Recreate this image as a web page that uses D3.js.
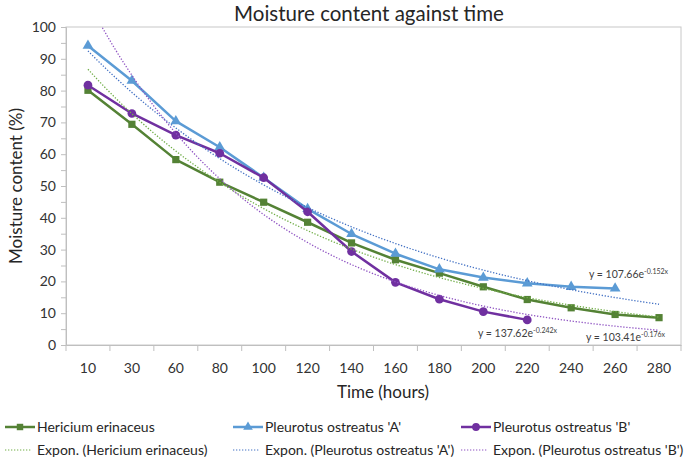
<!DOCTYPE html>
<html>
<head>
<meta charset="utf-8">
<script src="https://cdn.jsdelivr.net/npm/d3@7"></script>
<style>
  html, body { margin: 0; padding: 0; background: #fff; }
  svg { display: block; font-family: Lato, "Open Sans", sans-serif; }
</style>
</head>
<body>
<svg id="chart" width="685" height="459"></svg>
<script>
// ---- data ----
const categories = ["10","30","60","80","100","120","140","160","180","200","220","240","260","280"];
const hericium   = [80.1, 69.4, 58.3, 51.2, 44.9, 38.6, 32.1, 26.8, 22.6, 18.3, 14.3, 11.7, 9.6, 8.6];
const pleurotusA = [94.1, 83.1, 70.4, 62.2, 52.6, 42.8, 34.9, 28.7, 23.8, 21.2, 19.4, 18.3, 17.8, null];
const pleurotusB = [81.7, 72.8, 66.0, 60.3, 52.6, 41.9, 29.4, 19.7, 14.4, 10.5, 7.9, null, null, null];
const seriesNames = ["Hericium erinaceus", "Pleurotus ostreatus 'A'", "Pleurotus ostreatus 'B'"];
// exponential trendline coefficients (y = a e^(b x), x = category index 1..n)
const trendA = [103.41, 107.66, 137.62];
const trendB = [-0.176, -0.152, -0.242];
const yTicks = [0,10,20,30,40,50,60,70,80,90,100];

const seriesValues = [hericium, pleurotusA, pleurotusB];
const lineColors  = ["#548235", "#5b9bd5", "#7030a0"];
const trendColors = ["#70ad47", "#4472c4", "#8e52c2"];
const markers = [d3.symbolSquare, d3.symbolTriangle, d3.symbolCircle];
const markerSizes = [52, 50, 60];

const svg = d3.select("#chart");
const L = 66, R = 681, T = 27, B = 345;

const x = d3.scaleBand().domain(categories).range([L, R]).paddingInner(0).paddingOuter(0);
const xi = d3.scaleLinear().domain([0.5, categories.length + 0.5]).range([L, R]);
const y = d3.scaleLinear().domain([0, 100]).range([B, T]);

// title
svg.append("text").attr("x", 369).attr("y", 21).attr("text-anchor", "middle")
  .attr("font-size", 20.5).attr("fill", "#262626").text("Moisture content against time");

// plot border (top/right)
svg.append("rect").attr("x", L).attr("y", T).attr("width", R - L).attr("height", B - T)
  .attr("fill", "none").attr("stroke", "#c8c8c8").attr("stroke-width", 1);

// y axis
const yAxis = d3.axisLeft(y).tickValues(d3.range(0, 101, 5)).tickSize(5)
  .tickFormat(d => yTicks.includes(d) ? d : "");
const gy = svg.append("g").attr("transform", `translate(${L},0)`).call(yAxis);
gy.select(".domain").attr("stroke", "#bfbfbf");
gy.selectAll(".tick line").attr("stroke", "#bfbfbf");
gy.selectAll(".tick text").attr("font-size", 14).attr("fill", "#333").attr("x", -10)
  .attr("font-family", "Lato, sans-serif");

// x axis
const xAxis = d3.axisBottom(x).tickSize(0).tickPadding(0);
const gx = svg.append("g").attr("transform", `translate(0,${B})`).call(xAxis);
gx.select(".domain").attr("stroke", "#bfbfbf");
gx.selectAll(".tick text").attr("font-size", 14).attr("fill", "#333").attr("dy", 0).attr("y", 28)
  .attr("font-family", "Lato, sans-serif");
// category boundary ticks
const bounds = d3.range(categories.length + 1).map(i => L + i * x.bandwidth());
svg.append("g").selectAll("line").data(bounds).join("line")
  .attr("x1", d => d).attr("x2", d => d).attr("y1", B).attr("y2", B + 6)
  .attr("stroke", "#bfbfbf");

// axis titles
svg.append("text").attr("x", 383).attr("y", 398).attr("text-anchor", "middle")
  .attr("font-size", 17).attr("fill", "#262626").text("Time (hours)");
svg.append("text").attr("transform", "translate(22,186) rotate(-90)").attr("text-anchor", "middle")
  .attr("font-size", 17).attr("fill", "#262626").text("Moisture content (%)");

// clip
svg.append("clipPath").attr("id", "plotclip").append("rect")
  .attr("x", L).attr("y", T).attr("width", R - L).attr("height", B - T);

// series lines & markers
const line = d3.line().defined(d => d.v != null).x(d => x(d.c) + x.bandwidth() / 2).y(d => y(d.v));
seriesValues.forEach((vals, s) => {
  const pts = categories.map((c, i) => ({ c, v: vals[i] }));
  svg.append("path").datum(pts).attr("d", line).attr("fill", "none")
    .attr("stroke", lineColors[s]).attr("stroke-width", 2.5).attr("stroke-linejoin", "round");
  svg.append("g").selectAll("path").data(pts.filter(d => d.v != null)).join("path")
    .attr("d", d3.symbol().type(markers[s]).size(markerSizes[s]))
    .attr("transform", d => `translate(${x(d.c) + x.bandwidth() / 2},${y(d.v)})`)
    .attr("fill", lineColors[s]);
});

// trendlines
seriesValues.forEach((vals, s) => {
  const xs = d3.range(1, categories.length + 0.001, 0.05);
  const pts = xs.map(t => [xi(t), y(trendA[s] * Math.exp(trendB[s] * t))]);
  svg.append("path").attr("clip-path", "url(#plotclip)")
    .attr("d", d3.line()(pts)).attr("fill", "none")
    .attr("stroke", trendColors[s]).attr("stroke-width", 1.3).attr("stroke-dasharray", "1.3,1.7");
});

// equations
function equation(px, py, a, b) {
  const t = svg.append("text").attr("x", px).attr("y", py).attr("font-size", 10.5).attr("fill", "#404040");
  t.append("tspan").text(`y = ${a.toFixed(2)}e`);
  t.append("tspan").attr("dy", -4).attr("font-size", 7).text(`${b.toFixed(3)}x`);
}
equation(589, 278, trendA[1], trendB[1]);
equation(478, 337, trendA[2], trendB[2]);
equation(586, 341, trendA[0], trendB[0]);

// legend
const legCols = [5, 233, 461];
seriesNames.forEach((name, s) => {
  const lx = legCols[s], ly1 = 427, ly2 = 450;
  svg.append("line").attr("x1", lx).attr("x2", lx + 30).attr("y1", ly1).attr("y2", ly1)
    .attr("stroke", lineColors[s]).attr("stroke-width", 2.5);
  svg.append("path").attr("d", d3.symbol().type(markers[s]).size(markerSizes[s] * 0.8))
    .attr("transform", `translate(${lx + 15},${ly1})`).attr("fill", lineColors[s]);
  svg.append("text").attr("x", lx + 32).attr("y", ly1 + 5).attr("font-size", 14).attr("fill", "#262626").text(name);
  svg.append("line").attr("x1", lx).attr("x2", lx + 26).attr("y1", ly2).attr("y2", ly2)
    .attr("stroke", trendColors[s]).attr("stroke-width", 1.2).attr("stroke-dasharray", "1.3,1.7");
  svg.append("text").attr("x", lx + 32).attr("y", ly2 + 5).attr("font-size", 14).attr("fill", "#262626")
    .text(`Expon. (${name})`);
});
</script>
</body>
</html>
